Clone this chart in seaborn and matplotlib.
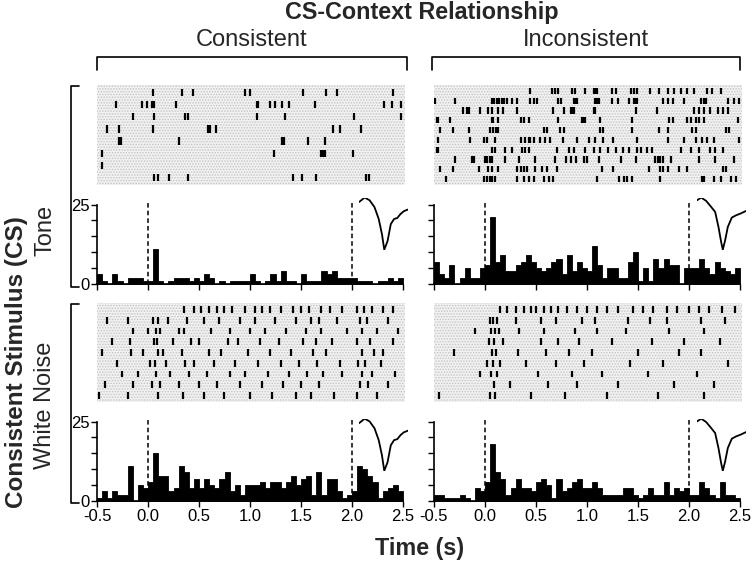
import numpy as np
import pandas as pd
import matplotlib
matplotlib.use("Agg")
import matplotlib.pyplot as plt
from matplotlib.lines import Line2D
from matplotlib.patches import Rectangle
import seaborn as sns

# ---- PSTH bins (50 ms, -0.5 .. 2.5 s) and axis labels
bin_edges = np.round(np.linspace(-0.5, 2.5, 61), 3)
bin_centers = (bin_edges[:-1] + bin_edges[1:]) / 2
x_ticks = [-0.5, 0.0, 0.5, 1.0, 1.5, 2.0, 2.5]
x_tick_labels = ["-0.5", "0.0", "0.5", "1.0", "1.5", "2.0", "2.5"]
y_ticks = [0, 5, 10, 15, 20, 25]
y_tick_labels = ["0", "", "", "", "", "25"]
markers = [0.0, 2.0]

col_titles = ["Consistent", "Inconsistent"]
row_titles = ["Tone", "White Noise"]

# ---- spike counts per bin
tone_consistent_counts = [
    3, 1, 0, 3, 1, 0, 2, 2, 2, 1,
    1, 11, 1, 0, 1, 2, 2, 2, 1, 2,
    1, 3, 2, 0, 1, 0, 1, 1, 1, 1,
    3, 1, 0, 1, 3, 1, 4, 1, 1, 0,
    3, 1, 1, 1, 4, 3, 4, 2, 2, 2,
    2, 1, 1, 1, 0, 1, 1, 2, 1, 2]
tone_inconsistent_counts = [
    7, 3, 2, 6, 0, 2, 5, 2, 2, 5,
    6, 21, 7, 9, 4, 4, 6, 7, 9, 7,
    5, 4, 5, 7, 8, 3, 9, 4, 7, 5,
    4, 12, 6, 2, 5, 5, 2, 2, 7, 10,
    1, 5, 1, 8, 5, 8, 6, 6, 0, 5,
    5, 5, 8, 5, 3, 7, 5, 4, 3, 5]
noise_consistent_counts = [
    1, 3, 1, 3, 2, 2, 11, 0, 5, 4,
    6, 15, 8, 8, 3, 4, 11, 9, 4, 7,
    4, 7, 5, 4, 7, 9, 3, 5, 2, 5,
    5, 5, 6, 4, 6, 6, 4, 6, 8, 5,
    7, 8, 2, 9, 2, 7, 7, 3, 1, 2,
    3, 11, 10, 8, 6, 1, 3, 4, 5, 3]
noise_inconsistent_counts = [
    2, 2, 1, 1, 1, 2, 1, 0, 4, 3,
    6, 18, 9, 7, 2, 4, 7, 4, 4, 3,
    6, 7, 5, 1, 7, 3, 4, 6, 7, 4,
    4, 6, 4, 2, 2, 2, 2, 4, 4, 2,
    1, 2, 4, 2, 2, 6, 2, 4, 3, 4,
    2, 2, 6, 4, 2, 1, 6, 2, 2, 1]

# ---- raster spike times (s), one list per trial
tone_consistent_spikes = [
    [0.05, 0.33, 0.44, 0.95, 1.00, 1.52, 1.75, 1.85, 2.40],
    [-0.31, -0.06, -0.01, 0.04, 0.06, 0.27, 1.07, 1.08, 1.20, 1.25, 1.31, 1.38, 1.64, 2.31, 2.39, 2.48],
    [-0.15, 0.06, 0.36, 0.39, 1.07, 1.34, 2.02, 2.48],
    [-0.40, -0.28, 0.05, 0.59, 0.61, 0.67, 1.81, 1.88, 2.09],
    [-0.28, -0.26, 0.30, 1.31, 1.33, 1.57, 1.74],
    [-0.45, 1.24, 1.70, 1.72, 1.74, 2.01],
    [-0.45],
    [0.06, 0.10, 0.21, 0.39, 1.42, 1.51, 1.65, 2.14, 2.17],
]
tone_inconsistent_spikes = [
    [0.44, 0.66, 0.69, 0.72, 0.85, 0.88, 0.98, 1.07, 1.08, 1.10, 1.25, 1.28, 1.43, 1.46, 1.49,
     1.62, 1.71, 1.79, 1.85, 1.92, 1.98, 2.05, 2.18, 2.23, 2.31],
    [-0.49, -0.29, 0.07, 0.09, 0.12, 0.14, 0.17, 0.19, 0.22, 0.26, 0.31, 0.44, 0.48, 0.51, 0.72,
     0.75, 0.87, 0.89, 0.90, 1.08, 1.10, 1.12, 1.25, 1.30, 1.41, 1.46, 1.48, 1.49, 1.75, 1.79,
     1.84, 1.95, 2.12, 2.15, 2.17, 2.38, 2.44, 2.49],
    [-0.22, -0.18, -0.16, -0.05, 0.03, 0.07, 0.13, 0.18, 0.31, 0.67, 0.77, 0.84, 0.85, 0.87,
     1.07, 1.08, 1.48, 1.69, 2.05, 2.10, 2.15, 2.21, 2.28, 2.33, 2.38],
    [-0.47, -0.46, -0.34, 0.07, 0.08, 0.13, 0.35, 0.38, 0.43, 0.72, 0.95, 0.97, 0.98, 1.13,
     1.44, 1.80, 1.84, 1.98, 2.02, 2.07, 2.10, 2.15, 2.48],
    [-0.44, -0.31, -0.16, 0.05, 0.08, 0.11, 0.13, 0.58, 0.61, 0.74, 0.77, 1.13, 1.16, 1.44,
     1.71, 1.79, 2.03, 2.07, 2.36, 2.39],
    [-0.46, -0.15, -0.01, 0.02, 0.10, 0.35, 0.39, 0.43, 0.44, 0.48, 0.54, 0.59, 0.64, 0.76,
     0.90, 1.02, 1.08, 1.16, 1.26, 1.49, 1.79, 1.95, 2.07, 2.13, 2.18, 2.25, 2.49],
    [-0.47, -0.46, 0.07, 0.10, 0.20, 0.26, 0.36, 0.39, 0.43, 0.71, 0.82, 0.87, 0.98, 1.07,
     1.13, 1.21, 1.28, 1.35, 1.41, 1.49, 1.53, 1.59, 1.64, 1.92, 2.02, 2.10, 2.21, 2.26, 2.33],
    [-0.29, -0.13, -0.11, 0.00, 0.02, 0.05, 0.07, 0.20, 0.33, 0.49, 0.69, 0.79, 0.84, 0.89,
     0.97, 1.00, 1.12, 1.33, 1.48, 1.67, 1.70, 1.72, 1.75, 1.82, 2.10, 2.26, 2.44],
    [-0.44, -0.31, -0.06, 0.03, 0.07, 0.13, 0.31, 0.35, 0.38, 0.41, 0.49, 0.56, 0.61, 0.71,
     1.15, 1.26, 1.61, 1.72, 1.75, 1.79, 1.90, 1.98, 2.33, 2.36],
    [-0.38, -0.01, 0.02, 0.05, 0.07, 0.10, 0.31, 0.38, 0.43, 0.48, 0.58, 0.63, 0.67, 1.10,
     1.31, 1.36, 1.39, 1.44, 1.72, 2.13, 2.15, 2.25, 2.31, 2.41, 2.46],
]
noise_consistent_spikes = [
    [0.35, 0.45, 0.52, 0.60, 0.68, 0.75, 0.82, 0.95, 1.05, 1.12, 1.20, 1.30, 1.42, 1.50, 1.58,
     1.70, 1.78, 1.90, 2.05, 2.12, 2.20, 2.30, 2.40],
    [-0.40, -0.20, 0.05, 0.10, 0.20, 0.38, 0.55, 0.70, 0.90, 1.05, 1.25, 1.45, 1.60, 1.68,
     1.85, 2.08, 2.15, 2.35],
    [-0.15, 0.00, 0.08, 0.12, 0.30, 0.35, 0.62, 0.80, 1.00, 1.15, 1.35, 1.55, 1.70, 1.95,
     2.10, 2.25, 2.45],
    [-0.35, -0.18, 0.06, 0.09, 0.25, 0.42, 0.50, 0.78, 0.88, 1.10, 1.28, 1.52, 1.65, 1.80,
     2.05, 2.18, 2.40],
    [-0.45, -0.17, -0.05, 0.10, 0.15, 0.33, 0.60, 0.72, 0.98, 1.20, 1.40, 1.62, 1.75, 2.10,
     2.22, 2.30],
    [-0.30, 0.02, 0.07, 0.18, 0.36, 0.45, 0.65, 0.85, 1.08, 1.30, 1.48, 1.66, 1.88, 2.06,
     2.13, 2.28],
    [-0.25, -0.10, 0.08, 0.22, 0.40, 0.58, 0.80, 0.95, 1.18, 1.38, 1.56, 1.72, 1.90, 2.10,
     2.20, 2.42],
    [-0.42, -0.15, 0.04, 0.12, 0.30, 0.50, 0.68, 0.90, 1.12, 1.32, 1.50, 1.68, 2.08, 2.16, 2.35],
    [-0.48, -0.20, 0.10, 0.34, 0.55, 0.75, 1.00, 1.22, 1.45, 1.60, 1.82, 2.05, 2.25],
]
noise_inconsistent_spikes = [
    [0.15, 0.22, 0.30, 0.38, 0.45, 0.50, 0.58, 0.65, 0.72, 0.80, 0.90, 1.00, 1.10, 1.20, 1.30,
     1.45, 1.55, 1.65, 1.78, 1.88, 2.00, 2.10, 2.20, 2.32, 2.45],
    [0.05, 0.08, 0.12, 0.30, 0.55, 0.70, 0.95, 1.08, 1.40, 1.62, 1.78, 2.12, 2.35],
    [-0.10, 0.06, 0.10, 0.14, 0.33, 0.58, 0.88, 1.10, 1.38, 1.80, 2.15],
    [0.04, 0.09, 0.18, 0.55, 0.72, 0.92, 1.25, 1.64, 1.95, 2.30],
    [-0.30, 0.07, 0.11, 0.32, 0.60, 0.82, 1.05, 1.50, 1.90, 2.12],
    [0.02, 0.08, 0.15, 0.40, 0.70, 0.97, 1.42, 1.75, 2.38],
    [-0.05, 0.06, 0.12, 0.52, 0.85, 1.15, 1.60, 2.08],
    [0.09, 0.25, 0.62, 0.90, 1.30, 1.85, 2.25],
    [-0.45, 0.05, 0.10, 0.45, 0.78, 1.20, 1.70, 2.15],
]

# ---- average spike waveforms of the two units (arbitrary units)
wave_left_t = [0, 17, 32, 47, 60, 70, 77, 87, 97, 107, 117, 127, 137, 150]
wave_left_v = [150, 163, 155, 135, 100, 55, 10, 35, 85, 100, 103, 115, 123, 128]
wave_right_t = [0, 12, 27, 42, 54, 64, 72, 77, 84, 92, 104, 117, 130, 147]
wave_right_v = [155, 163, 153, 135, 120, 75, 30, 7, 35, 75, 103, 110, 115, 123]

# ------------------------------------------------------------------
sns.set_theme(style="ticks")
plt.rcParams["font.family"] = ["Liberation Sans", "DejaVu Sans"]
plt.rcParams["axes.unicode_minus"] = False
plt.rcParams["hatch.linewidth"] = 0.7

W, H = 755, 565
fig = plt.figure(figsize=(W / 100, H / 100), dpi=100)


def box(x0, y0, x1, y1):
    return [x0 / W, 1 - y1 / H, (x1 - x0) / W, (y1 - y0) / H]


def fx(x):
    return x / W


def fy(y):
    return 1 - y / H


col_x = [(97, 403), (434, 740)]
raster_y = [(85, 185), (303, 402)]
psth_y = [(195, 284), (412, 501)]

counts = [[tone_consistent_counts, tone_inconsistent_counts],
          [noise_consistent_counts, noise_inconsistent_counts]]
spikes = [[tone_consistent_spikes, tone_inconsistent_spikes],
          [noise_consistent_spikes, noise_inconsistent_spikes]]
waves = [(wave_left_t, wave_left_v, 2.07), (wave_right_t, wave_right_v, 2.08)]

for r in range(2):
    for c in range(2):
        x0, x1 = col_x[c]

        # raster on a stippled grey ground
        axr = fig.add_axes(box(x0, raster_y[r][0], x1 + 2, raster_y[r][1]))
        trials = spikes[r][c]
        n = len(trials)
        axr.set_facecolor("#f1f1f1")
        axr.add_patch(Rectangle((0, 0), 1, 1, transform=axr.transAxes, facecolor="none",
                                edgecolor="#c4c4c4", hatch="......", linewidth=0, zorder=0))
        axr.eventplot(trials, lineoffsets=list(range(n)), linelengths=0.62,
                      linewidths=1.6, colors="black", zorder=2)
        axr.set_xlim(-0.5, 2.52)
        axr.set_ylim(n - 0.4, -0.6)
        axr.set_xticks([])
        axr.set_yticks([])
        for s in axr.spines.values():
            s.set_visible(False)

        # PSTH
        ax = fig.add_axes(box(x0, psth_y[r][0], x1, psth_y[r][1]))
        psth = pd.DataFrame({"t": bin_centers, "n": counts[r][c]})
        sns.histplot(data=psth, x="t", weights="n", bins=list(bin_edges), ax=ax,
                     element="step", fill=True, color="black", alpha=1, linewidth=0.6)
        ax.vlines(markers, 0, 25.5, colors="black", linestyles=(0, (3, 2)), linewidth=1.1)
        ax.set_xlim(-0.5, 2.5)
        ax.set_ylim(0, 28)
        ax.set_xlabel("")
        ax.set_ylabel("")
        ax.set_facecolor("white")
        sns.despine(ax=ax)
        ax.spines["left"].set_bounds(0, 25)
        for s in ("left", "bottom"):
            ax.spines[s].set_linewidth(1.2)
            ax.spines[s].set_color("black")
        ax.set_yticks(y_ticks)
        ax.set_yticklabels(y_tick_labels if c == 0 else [""] * len(y_ticks))
        ax.set_xticks(x_ticks)
        ax.set_xticklabels(x_tick_labels if r == 1 else [""] * len(x_ticks))
        ax.tick_params(length=4, width=1, color="black", labelsize=12, labelcolor="black")
        ax.tick_params(axis="x", pad=2)
        ax.tick_params(axis="y", pad=1)

        # waveform inset
        wt, wv, wx = waves[c]
        ins = ax.inset_axes([wx, 10.8 if r == 0 else 9.5, 0.48, 16.4],
                            transform=ax.transData)
        sns.lineplot(x=wt, y=wv, ax=ins, color="black", linewidth=1.3)
        ins.set_xlim(min(wt), max(wt))
        ins.set_ylim(min(wv), max(wv))
        ins.axis("off")

# brackets
line_kw = dict(color="black", linewidth=1.2, transform=fig.transFigure)
for x0, x1 in [(97, 407), (432, 740)]:
    fig.add_artist(Line2D([fx(x0), fx(x0), fx(x1), fx(x1)],
                          [fy(70), fy(57), fy(57), fy(70)], **line_kw))
for y0, y1 in [(86, 287), (304, 503)]:
    fig.add_artist(Line2D([fx(79), fx(71), fx(71), fx(79)],
                          [fy(y0), fy(y0), fy(y1), fy(y1)], **line_kw))

# titles
fig.text(fx(422), fy(13), "CS-Context Relationship", ha="center", va="center",
         fontsize=16.8, fontweight="bold")
for (x0, x1), t in zip([(97, 407), (432, 740)], col_titles):
    fig.text(fx((x0 + x1) / 2), fy(40), t, ha="center", va="center", fontsize=17)
fig.text(fx(420), fy(548), "Time (s)", ha="center", va="center",
         fontsize=16.8, fontweight="bold")
fig.text(fx(17), fy(362), "Consistent Stimulus (CS)", ha="center", va="center",
         rotation=90, fontsize=17.5, fontweight="bold")
fig.text(fx(45), fy(230), row_titles[0], ha="center", va="center", rotation=90, fontsize=17)
fig.text(fx(45), fy(405), row_titles[1], ha="center", va="center", rotation=90, fontsize=17)

fig.savefig("out.png", dpi=100)
